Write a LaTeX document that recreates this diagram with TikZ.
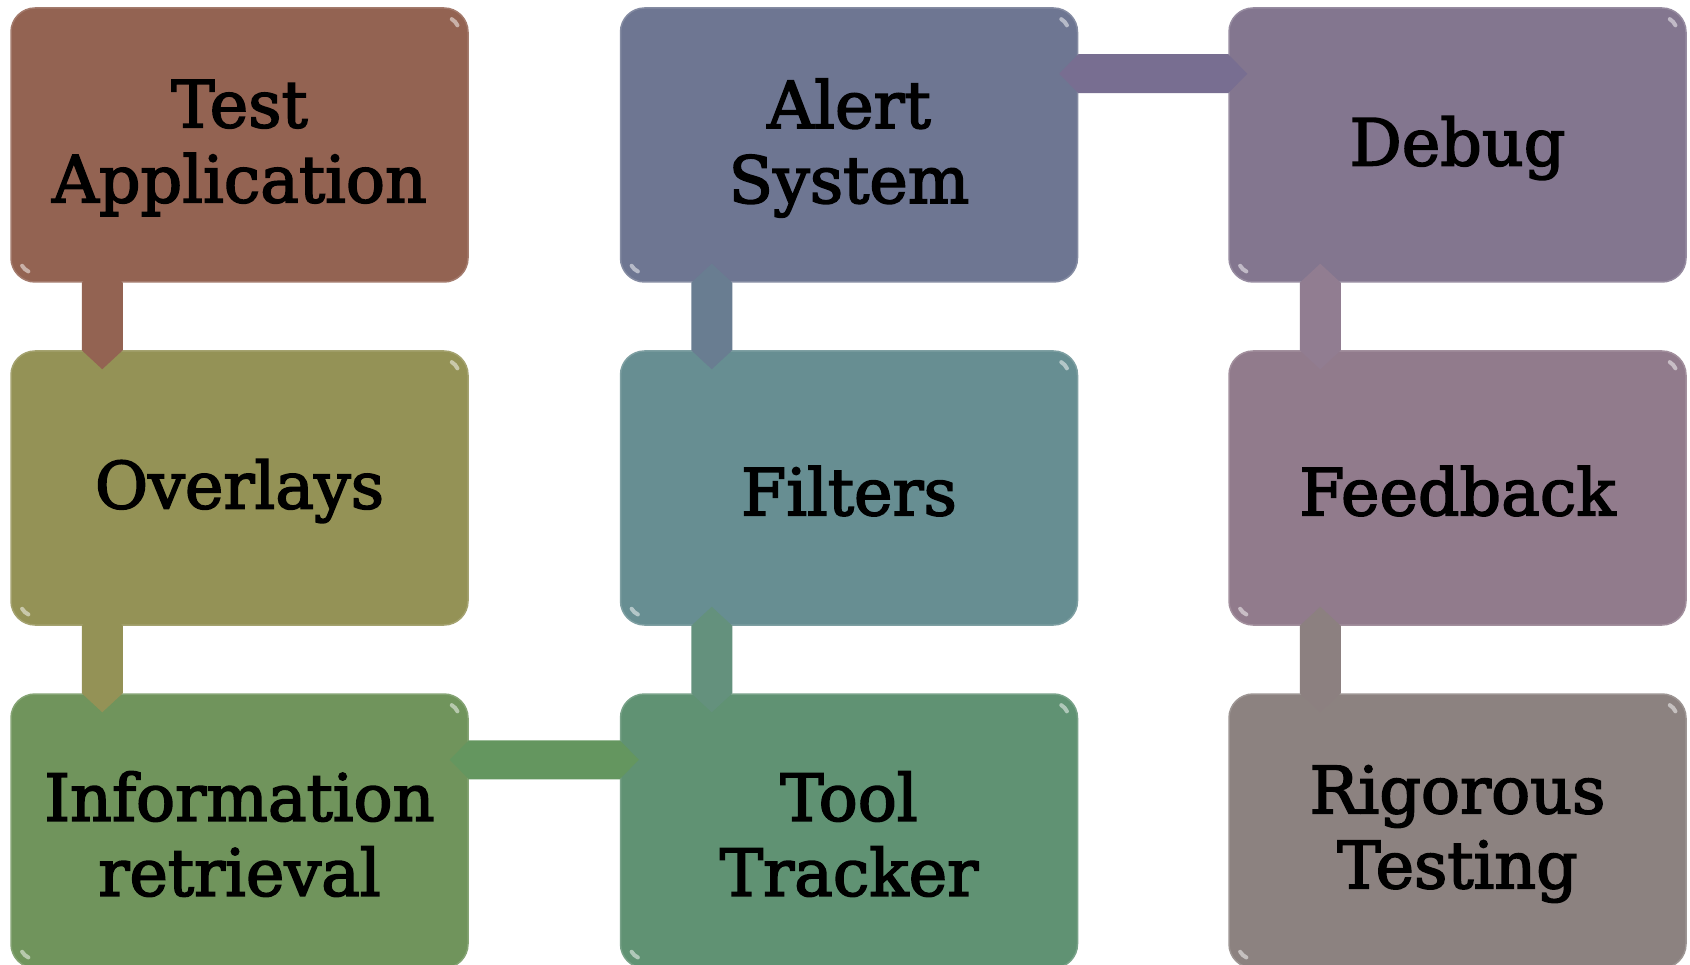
\documentclass[tikz,border=0pt]{standalone}
\usepackage{fontspec}
\setmainfont[FakeBold=2.5]{DejaVu Serif}
\usetikzlibrary{calc}
\definecolor{cTA}{RGB}{147,99,82}
\definecolor{cOV}{RGB}{148,146,86}
\definecolor{cIR}{RGB}{112,148,92}
\definecolor{cTT}{RGB}{96,146,115}
\definecolor{cFI}{RGB}{103,142,146}
\definecolor{cAS}{RGB}{110,118,146}
\definecolor{cDE}{RGB}{131,118,143}
\definecolor{cFB}{RGB}{145,123,140}
\definecolor{cRT}{RGB}{140,130,128}
\definecolor{lTA}{RGB}{147,99,82}
\definecolor{lOV}{RGB}{148,146,86}
\definecolor{lIR}{RGB}{100,150,95}
\definecolor{lAS}{RGB}{105,125,145}
\definecolor{lFI}{RGB}{100,145,125}
\definecolor{lDE}{RGB}{120,110,145}
\definecolor{lDF}{RGB}{145,125,145}
\definecolor{lFB}{RGB}{140,128,128}
\tikzset{
  box/.style={rounded corners=24pt, minimum width=457pt, minimum height=274pt,
    inner sep=0pt, align=center, font=\fontsize{65}{75}\selectfont, text=black,
    fill=#1, draw=#1!85!white, line width=1.5pt},
  boxtext/.style={align=center, font=\fontsize{65}{75}\selectfont, text=black, inner sep=0pt},
  linkfill/.style={fill=#1},
  glint/.style={draw=white, opacity=0.5, line width=4pt, line cap=round}
}
\newcommand\vlink[3]{\fill[linkfill=#3] ($(#1.south west)+(92,-19)$) -- ($(#1.south west)+(112.5,0)$) -- ($(#2.north west)+(112.5,0)$) -- ($(#2.north west)+(92,19)$) -- ($(#2.north west)+(71.5,0)$) -- ($(#1.south west)+(71.5,0)$) -- cycle;}
\newcommand\hlink[3]{\fill[linkfill=#3] ($(#1.north east)+(-19,66.5)$) -- ($(#1.north east)+(0,47)$) -- ($(#2.north west)+(0,47)$) -- ($(#2.north west)+(19,66.5)$) -- ($(#2.north west)+(0,86)$) -- ($(#1.north east)+(0,86)$) -- cycle;}
\begin{document}
\begin{tikzpicture}[x=1pt,y=-1pt]
\useasboundingbox (0,0) rectangle (1690,965);
\clip (0,0) rectangle (1690,965);
\node[box=cTA, text depth=0pt] (ta) at (239.5,145) {};
\node[box=cOV] (ov) at (239.5,488) {};
\node[box=cIR] (ir) at (239.5,831) {};
\node[box=cAS] (as) at (849,145) {};
\node[box=cFI] (fi) at (849,488) {};
\node[box=cTT] (tt) at (849,831) {};
\node[box=cDE] (de) at (1457.5,145) {};
\node[box=cFB] (fb) at (1457.5,488) {};
\node[box=cRT] (rt) at (1457.5,831) {};
\node[boxtext] (tat) at ($(ta.center)+(0,3)$) {Test\\Application};
\node[boxtext] (ovt) at ($(ov.center)+(0,3)$) {Overlays};
\node[boxtext] (irt) at ($(ir.center)+(0,3)$) {Information\\retrieval};
\node[boxtext] (ast) at ($(as.center)+(0,3)$) {Alert\\System};
\node[boxtext] (fit) at ($(fi.center)+(0,3)$) {Filters};
\node[boxtext] (ttt) at ($(tt.center)+(0,3)$) {Tool\\Tracker};
\node[boxtext] (det) at ($(de.center)+(0,3)$) {Debug};
\node[boxtext] (fbt) at ($(fb.center)+(0,3)$) {Feedback};
\node[boxtext] (rtt) at ($(rt.center)+(0,3)$) {Rigorous\\Testing};
\foreach \n in {ta,ov,ir,as,fi,tt,de,fb,rt}{
  \draw[glint] ($(\n.north east)+(-24,24)+(-25:14)$) arc[start angle=-25, end angle=-60, radius=14];
  \draw[glint] ($(\n.south west)+(24,-24)+(115:14)$) arc[start angle=115, end angle=150, radius=14];
}
\vlink{ta}{ov}{lTA}
\vlink{ov}{ir}{lOV}
\hlink{ir}{tt}{lIR}
\vlink{as}{fi}{lAS}
\vlink{fi}{tt}{lFI}
\hlink{as}{de}{lDE}
\vlink{de}{fb}{lDF}
\vlink{fb}{rt}{lFB}
\end{tikzpicture}
\end{document}
